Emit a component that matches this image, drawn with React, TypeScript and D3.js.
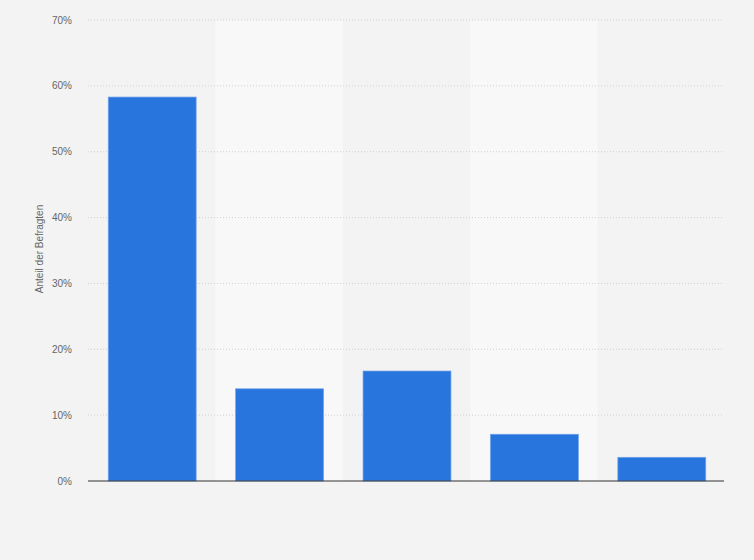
import React from "react";
import * as d3 from "d3";

const categories = ["A", "B", "C", "D", "E"];
const values = [58.3, 14.0, 16.7, 7.1, 3.6];
const yTicks = [0, 10, 20, 30, 40, 50, 60, 70];
const yLabel = "Anteil der Befragten";

export default function App() {
  const W = 754, H = 560;
  const left = 88, right = 724, top = 20, bottom = 481;
  const x = d3.scaleBand<string>().domain(categories).range([left, right + 1]).padding(0);
  const y = d3.scaleLinear().domain([0, 70]).range([bottom, top]);
  const bw = x.bandwidth();
  const barW = bw * 0.69;
  return (
    <div style={{ position: "fixed", left: 0, top: 0, width: W, height: H }}>
      <svg width={W} height={H} style={{ display: "block", fontFamily: "'Liberation Sans', Arial, sans-serif" }}>
        <rect x={0} y={0} width={W} height={H} fill="#f3f3f3" />
        {categories.map((c, i) =>
          i % 2 === 1 ? (
            <rect key={"band" + c} x={x(c)} y={top} width={bw} height={bottom - top} fill="#f8f8f8" />
          ) : null
        )}
        {yTicks.map((t) => (
          <g key={t}>
            {t > 0 && (
              <line x1={left} x2={right} y1={y(t)} y2={y(t)} stroke="#d0d0d0" strokeWidth={1} strokeDasharray="1,2" />
            )}
            <text x={72} y={y(t)} dy="0.35em" textAnchor="end" fontSize={10} fill="#666">
              {t + "%"}
            </text>
          </g>
        ))}
        {categories.map((c, i) => (
          <rect
            key={c}
            x={(x(c) as number) + (bw - barW) / 2 + 0.5}
            y={y(values[i])}
            width={barW}
            height={bottom - y(values[i])}
            fill="#2876dd"
            stroke="#6fa3ea"
            strokeWidth={0.7}
          />
        ))}
        <line x1={left} x2={right} y1={bottom} y2={bottom} stroke="#333" strokeWidth={1.2} />
        <text
          transform={`translate(43,249) rotate(-90)`}
          textAnchor="middle"
          fontSize={10}
          fill="#666"
        >
          {yLabel}
        </text>
      </svg>
    </div>
  );
}
